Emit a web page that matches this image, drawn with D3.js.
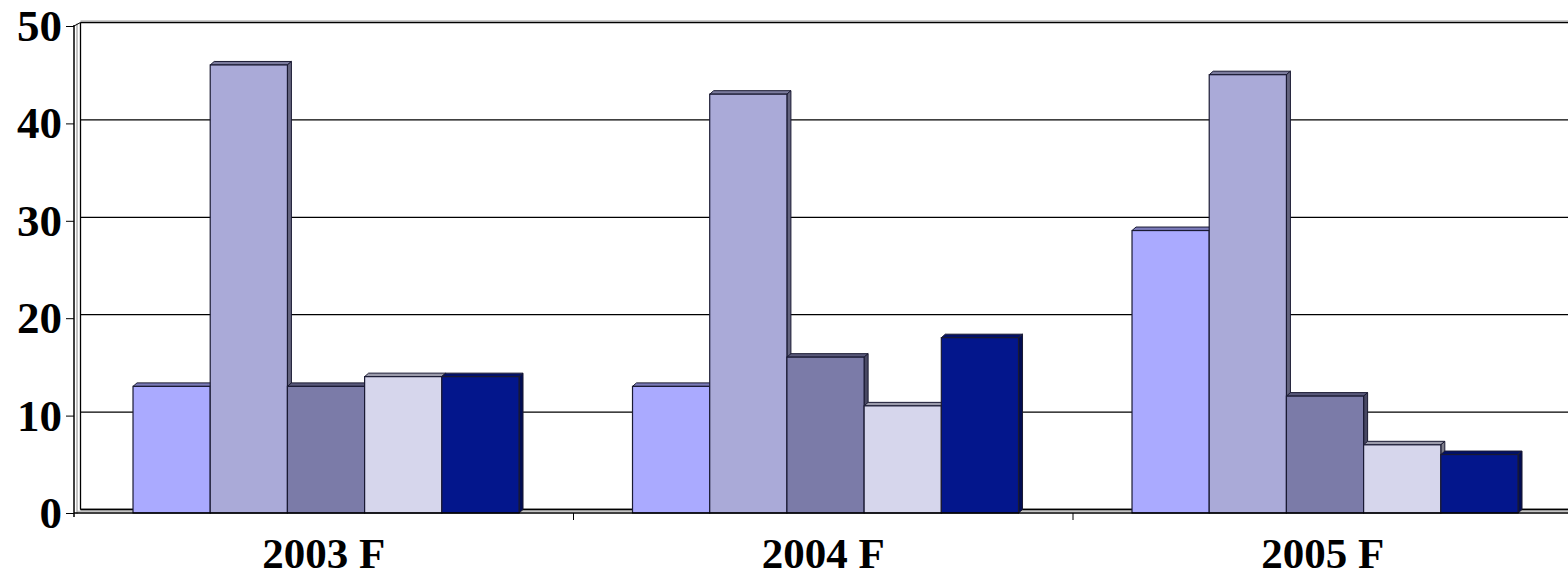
<!DOCTYPE html>
<html>
<head>
<meta charset="utf-8">
<script src="https://cdn.jsdelivr.net/npm/d3@7"></script>
<style>
  html, body { margin: 0; padding: 0; background: #fff; }
  svg { display: block; }
  text { font-family: "Liberation Serif", "Times New Roman", serif; font-weight: bold; fill: #000; }
</style>
</head>
<body>
<svg id="chart" width="1568" height="576"></svg>
<script>
// Categories, tick values and series values
const categories = ["2003 F", "2004 F", "2005 F"];
const yTicks = [0, 10, 20, 30, 40, 50];
const seriesKeys = ["s1", "s2", "s3", "s4", "s5"];
const s1 = [13, 13, 29];
const s2 = [46, 43, 45];
const s3 = [13, 16, 12];
const s4 = [14, 11, 7];
const s5 = [14, 18, 6];
const seriesColors = ["#AAAAFF", "#AAAAD8", "#7B7BA8", "#D6D6EC", "#03168C"];

const seriesValues = [s1, s2, s3, s4, s5];

// Layout
const W = 1568, H = 576;
const axisX = 74;          // front edge of the value axis
const floorY = 513;        // front edge of the floor
const topY = 26;           // front position of the max value
const depthX = 4, depthY = 3.5; // oblique depth offset of the 3-D boxes
const wallBackX = 80.5;
const bandW = 499.5;

const svg = d3.select("#chart");

const y = d3.scaleLinear().domain([0, 50]).range([floorY, topY]);
const x0 = d3.scaleBand().domain(categories).range([axisX, axisX + bandW * categories.length]).padding(0);
const x1 = d3.scaleBand().domain(seriesKeys).range([0, x0.bandwidth()])
  .paddingInner(0).paddingOuter(0.735).align(0.52);

// Back-wall gridlines
svg.append("g").selectAll("line").data(yTicks).join("line")
  .attr("x1", wallBackX).attr("x2", W)
  .attr("y1", d => y(d) - depthY).attr("y2", d => y(d) - depthY)
  .attr("stroke", "#000").attr("stroke-width", 1.3);
// light edge above the top gridline
svg.append("line").attr("x1", wallBackX).attr("x2", W)
  .attr("y1", y(50) - depthY - 1.5).attr("y2", y(50) - depthY - 1.5)
  .attr("stroke", "#999").attr("stroke-width", 1);

// Left wall edges
svg.append("line").attr("x1", wallBackX).attr("x2", wallBackX)
  .attr("y1", y(50) - depthY).attr("y2", y(0) - depthY)
  .attr("stroke", "#000").attr("stroke-width", 1.3);
svg.append("line").attr("x1", axisX + 3).attr("x2", axisX + 3)
  .attr("y1", y(50) - depthY + 1).attr("y2", y(0) + 1)
  .attr("stroke", "#888").attr("stroke-width", 1);
svg.append("line").attr("x1", axisX).attr("x2", axisX)
  .attr("y1", y(50) - 1).attr("y2", floorY + 4)
  .attr("stroke", "#000").attr("stroke-width", 1.5);
svg.append("line").attr("x1", axisX).attr("x2", wallBackX)
  .attr("y1", y(50)).attr("y2", y(50) - depthY)
  .attr("stroke", "#000").attr("stroke-width", 1);

// Floor edges
svg.append("line").attr("x1", wallBackX).attr("x2", W)
  .attr("y1", y(0) - depthY).attr("y2", y(0) - depthY)
  .attr("stroke", "#000").attr("stroke-width", 1.3);
svg.append("line").attr("x1", axisX + 3).attr("x2", W)
  .attr("y1", y(0) - 1.8).attr("y2", y(0) - 1.8)
  .attr("stroke", "#aaa").attr("stroke-width", 1);

// Bars drawn as oblique boxes, left to right
const bars = [];
categories.forEach((c, ci) => {
  seriesKeys.forEach((k, si) => {
    bars.push({ cat: c, key: k, si, value: seriesValues[si][ci] });
  });
});

const barG = svg.append("g");
bars.forEach(b => {
  const xl = x0(b.cat) + x1(b.key);
  const xr = xl + x1.bandwidth();
  const yt = y(b.value);
  const yb = y(0);
  const base = d3.color(seriesColors[b.si]);
  const stroke = "#1a1a33";
  const g = barG.append("g");
  // top face
  g.append("path")
    .attr("d", `M${xl},${yt}L${xr},${yt}L${xr + depthX},${yt - depthY}L${xl + depthX},${yt - depthY}Z`)
    .attr("fill", base.darker(0.9)).attr("stroke", stroke).attr("stroke-width", 1).attr("stroke-linejoin", "round");
  // side face
  g.append("path")
    .attr("d", `M${xr},${yt}L${xr + depthX},${yt - depthY}L${xr + depthX},${yb - depthY}L${xr},${yb}Z`)
    .attr("fill", base.darker(1.5)).attr("stroke", stroke).attr("stroke-width", 1).attr("stroke-linejoin", "round");
  // front face
  g.append("rect")
    .attr("x", xl).attr("y", yt).attr("width", xr - xl).attr("height", yb - yt)
    .attr("fill", base).attr("stroke", stroke).attr("stroke-width", 1.2);
});

// Front floor edge
svg.append("line").attr("x1", axisX).attr("x2", W)
  .attr("y1", floorY).attr("y2", floorY)
  .attr("stroke", "#000").attr("stroke-width", 1.5);

// Value axis
const yAxis = d3.axisLeft(y).tickValues(yTicks).tickSize(8).tickPadding(4).tickFormat(d3.format("d"));
const yg = svg.append("g").attr("transform", `translate(${axisX},0)`).call(yAxis);
yg.select(".domain").remove();
yg.selectAll(".tick line").attr("stroke", "#000").attr("stroke-width", 1);
yg.selectAll(".tick text").style("font-size", "45px")
  .style("font-family", "'Liberation Serif', 'Times New Roman', serif").style("font-weight", "bold").attr("fill", "#000");

// Category axis
const xAxis = d3.axisBottom(x0).tickSize(0).tickPadding(24.5);
const xg = svg.append("g").attr("transform", `translate(0,${floorY})`).call(xAxis);
xg.select(".domain").remove();
xg.selectAll(".tick text").style("font-size", "43px")
  .style("font-family", "'Liberation Serif', 'Times New Roman', serif").style("font-weight", "bold").attr("fill", "#000");

// Category separator ticks
svg.append("g").selectAll("line").data(categories.slice(1)).join("line")
  .attr("x1", d => x0(d)).attr("x2", d => x0(d))
  .attr("y1", floorY).attr("y2", floorY + 7)
  .attr("stroke", "#000").attr("stroke-width", 1);
</script>
</body>
</html>
